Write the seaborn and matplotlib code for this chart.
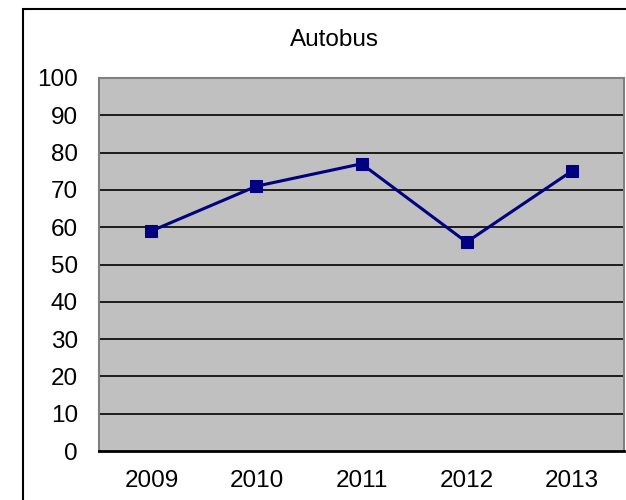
import pandas as pd
import numpy as np
import matplotlib.pyplot as plt
import seaborn as sns
from matplotlib.patches import Rectangle

sns.set_style('white')
plt.rcParams['font.family'] = ['Liberation Sans', 'DejaVu Sans']
plt.rcParams['text.color'] = 'black'
plt.rcParams['xtick.color'] = 'black'
plt.rcParams['ytick.color'] = 'black'

years = ['2009', '2010', '2011', '2012', '2013']
autobus = [59, 71, 77, 56, 75]
yticks = [0, 10, 20, 30, 40, 50, 60, 70, 80, 90, 100]

df = pd.DataFrame({'rok': years, 'Autobus': autobus})

fig = plt.figure(figsize=(6.26, 5), dpi=100)
ax = fig.add_axes([0.158, 0.098, 0.839, 0.746])
ax.set_facecolor('#C0C0C0')

# 外框
fig.patches.append(Rectangle((0.0367, -0.05), 1.1, 1.032, transform=fig.transFigure,
                             fill=False, edgecolor='black', lw=1.5, clip_on=False))

for t in yticks[1:-1]:
    ax.axhline(t, color='black', lw=1.2, zorder=1)

sns.lineplot(data=df, x='rok', y='Autobus', ax=ax, color='#000080', lw=2.2,
             marker='s', markersize=8.5, markeredgecolor='#000080', zorder=3)

ax.set_xlim(-0.5, 4.5)
ax.set_ylim(0, 100)
ax.set_yticks(yticks)
ax.set_xlabel('')
ax.set_ylabel('')
ax.tick_params(axis='both', length=0, labelsize=17.5, labelcolor='black')
ax.tick_params(axis='y', pad=15)
ax.tick_params(axis='x', pad=14)

for s in ['top', 'left', 'right']:
    ax.spines[s].set_color('#808080')
    ax.spines[s].set_linewidth(1.5)
ax.spines['bottom'].set_color('black')
ax.spines['bottom'].set_linewidth(2)

fig.text(0.535, 0.92, 'Autobus', ha='center', va='center', fontsize=17.5, color='black')

fig.savefig('out.png', dpi=100)
